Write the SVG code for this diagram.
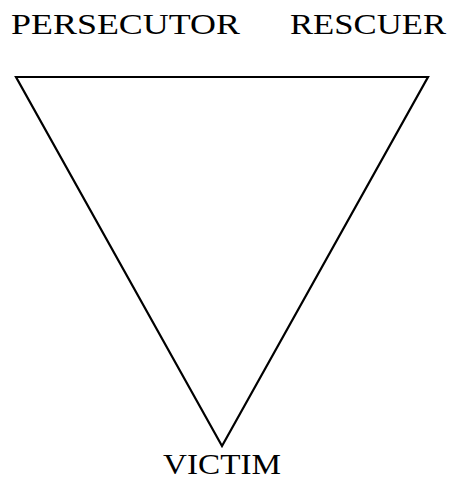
<svg xmlns="http://www.w3.org/2000/svg" width="452" height="484" viewBox="0 0 452 484">
<style>
.lbl{font-family:"Liberation Serif","DejaVu Serif",serif;font-size:29px;fill:#000}
.edge{fill:none;stroke:#000;stroke-width:2.2;stroke-linejoin:miter}
</style>
<rect width="452" height="484" fill="#fff"/>
<g id="connectors">
<polygon class="edge" points="16,77 428,77 222,446"/>
</g>
<g id="persecutor"><text class="lbl" x="11" y="34" textLength="229" lengthAdjust="spacingAndGlyphs">PERSECUTOR</text></g>
<g id="rescuer"><text class="lbl" x="290" y="34" textLength="156" lengthAdjust="spacingAndGlyphs">RESCUER</text></g>
<g id="victim"><text class="lbl" x="163" y="474" textLength="118" lengthAdjust="spacingAndGlyphs">VICTIM</text></g>
</svg>
